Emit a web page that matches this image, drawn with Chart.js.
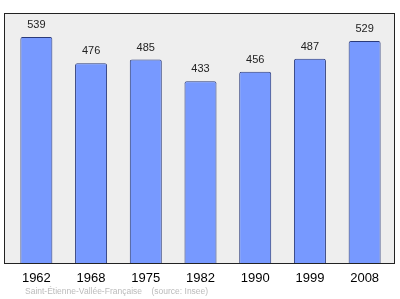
<!DOCTYPE html>
<html>
<head>
<meta charset="utf-8">
<script src="https://cdn.jsdelivr.net/npm/chart.js@4"></script>
<style>
  html, body { margin: 0; padding: 0; background: #fff; }
  #wrap { width: 400px; height: 299px; position: relative; }
</style>
</head>
<body>
<div id="wrap"><canvas id="popChart" width="400" height="299"></canvas></div>
<script>
const years = ["1962", "1968", "1975", "1982", "1990", "1999", "2008"];
const population = [539, 476, 485, 433, 456, 487, 529];
const yMax = 596;
const sourceText = "Saint-Étienne-Vallée-Française    (source: Insee)";

// fond gris + cadre, derriere les barres
const frame = {
    id: "frame",
    beforeDatasetsDraw(chart) {
        const ctx = chart.ctx;
        const a = chart.chartArea;
        ctx.save();
        ctx.fillStyle = "#eeeeee";
        ctx.fillRect(a.left - 5, a.top, a.right - a.left + 8, a.bottom - a.top);
        ctx.strokeStyle = "#222";
        ctx.lineWidth = 1;
        ctx.strokeRect(a.left - 4.5, a.top + 0.5, a.right - a.left + 7, a.bottom - a.top);
        ctx.restore();
    },
    afterDatasetsDraw(chart) {
        const ctx = chart.ctx;
        ctx.save();
        ctx.font = "11px 'Liberation Sans', Arial, sans-serif";
        ctx.fillStyle = "#222";
        ctx.textAlign = "center";
        ctx.textBaseline = "middle";
        chart.getDatasetMeta(0).data.forEach((bar, i) => {
            ctx.fillText(population[i], bar.x, bar.y - 12);
        });
        ctx.fillStyle = "#bbbbbb";
        ctx.font = "8.5px 'Liberation Sans', Arial, sans-serif";
        ctx.textAlign = "left";
        ctx.fillText(sourceText, 25, 292);
        ctx.restore();
    }
};

new Chart(document.getElementById("popChart").getContext("2d"), {
    type: "bar",
    data: {
        labels: years,
        datasets: [{
            data: population,
            backgroundColor: "#7799ff",
            borderColor: "#2a3a7a",
            borderWidth: 1,
            borderRadius: 2,
            borderSkipped: "bottom",
            categoryPercentage: 1,
            barPercentage: 0.585
        }]
    },
    options: {
        responsive: false,
        animation: false,
        layout: { padding: { left: 9, right: 8, top: 13, bottom: 0 } },
        scales: {
            y: { display: false, min: 0, max: yMax },
            x: {
                grid: { display: false },
                border: { display: false },
                ticks: {
                    color: "#000",
                    padding: 0,
                    font: { family: "'Liberation Sans', Arial, sans-serif", size: 13 }
                },
                afterFit(scale) { scale.height = 36; }
            }
        },
        plugins: {
            legend: { display: false },
            tooltip: { enabled: false }
        }
    },
    plugins: [frame]
});
</script>
</body>
</html>
